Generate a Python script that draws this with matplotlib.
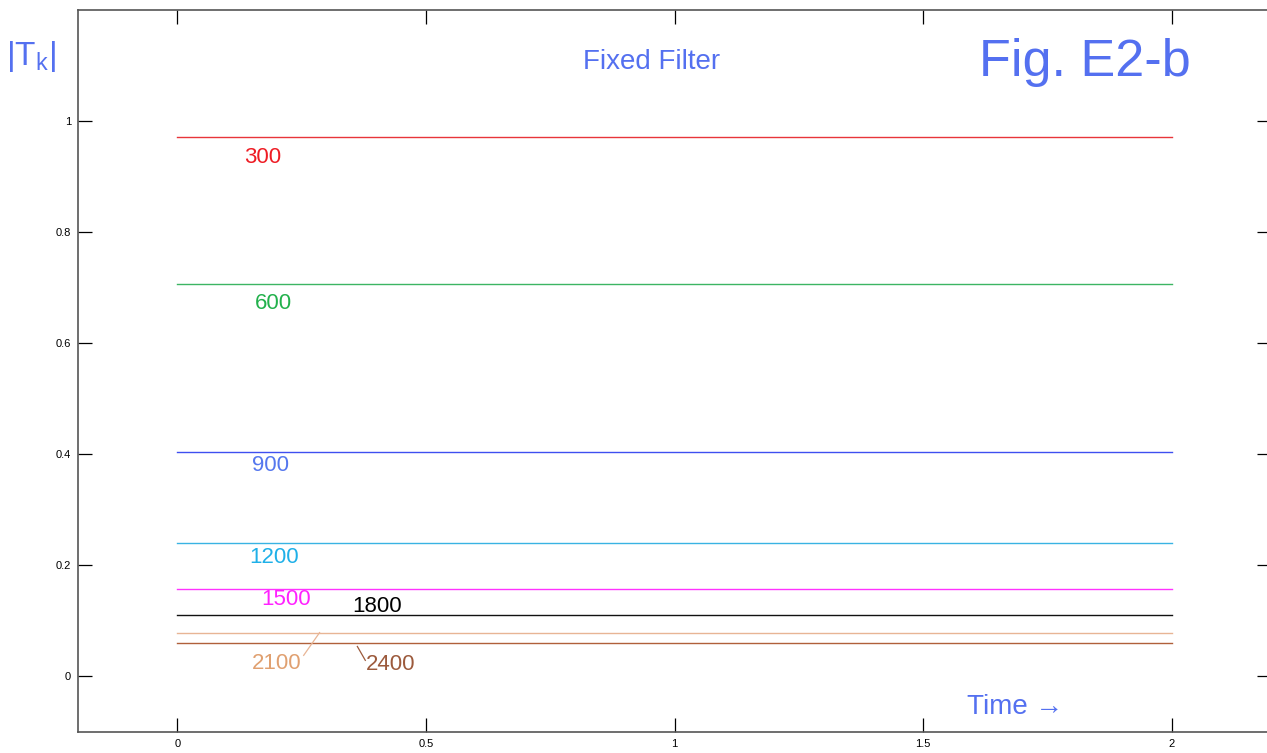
import matplotlib
matplotlib.use('Agg')
from matplotlib import pyplot as plt

plt.rcParams['font.family'] = ['Liberation Sans', 'DejaVu Sans']

# frequency labels and the (constant) filter magnitude for each
freqs = ['300', '600', '900', '1200', '1500', '1800', '2100', '2400']
levels = [0.971, 0.706, 0.405, 0.241, 0.157, 0.110, 0.079, 0.061]
line_colors = ['#e8353a', '#3cb563', '#3f4ff0', '#39b3e3', '#ff33ff', '#111111', '#e8b595', '#b0603a']
text_colors = ['#ee1c24', '#22b14c', '#5577ee', '#1fb0e8', '#ff22ff', '#000000', '#e0a070', '#9c5a3c']
label_x = [0.171, 0.193, 0.187, 0.195, 0.219, 0.402, 0.199, 0.429]
label_y = [0.935, 0.672, 0.380, 0.214, 0.139, 0.126, 0.023, 0.022]
t = [0, 2]

blue = '#5470f0'

fig = plt.figure(figsize=(12.67, 7.53), dpi=100)
ax = fig.add_axes([78 / 1267, 21 / 753, 1193 / 1267, 722 / 753])

for f, lv, lc, tc, lx, ly in zip(freqs, levels, line_colors, text_colors, label_x, label_y):
    ax.plot(t, [lv, lv], color=lc, linewidth=1.0)
    ax.text(lx, ly, f, color=tc, fontsize=16, ha='center', va='center')

# leader lines for the two bottom labels
ax.plot([0.254, 0.286], [0.038, levels[6]], color='#e8b595', linewidth=0.9)
ax.plot([0.362, 0.378], [levels[7] - 0.007, 0.029], color='#9c5a3c', linewidth=0.9)

ax.set_xlim(-0.2, 2.2)
ax.set_ylim(-0.1, 1.2)
ax.set_xticks([0, 0.5, 1, 1.5, 2])
ax.set_xticklabels(['0', '0.5', '1', '1.5', '2'])
ax.set_yticks([0, 0.2, 0.4, 0.6, 0.8, 1])
ax.set_yticklabels(['0', '0.2', '0.4', '0.6', '0.8', '1'])
ax.tick_params(direction='in', length=10, width=0.9, labelsize=8, top=True, right=True, pad=5)
for s in ax.spines.values():
    s.set_color('#555555')
    s.set_linewidth(1.2)

ax.text(0.954, 1.106, 'Fixed Filter', color=blue, fontsize=20, ha='center', va='center')
ax.text(1.825, 1.106, 'Fig. E2-b', color=blue, fontsize=37.5, ha='center', va='center')
ax.text(1.685, -0.055, 'Time \u2192', color=blue, fontsize=20, ha='center', va='center')
fig.text(31 / 1267, 1 - 57 / 753, '|T$_\\mathregular{k}$|', color=blue, fontsize=24, ha='center', va='center')

plt.savefig('out.png', dpi=100)
